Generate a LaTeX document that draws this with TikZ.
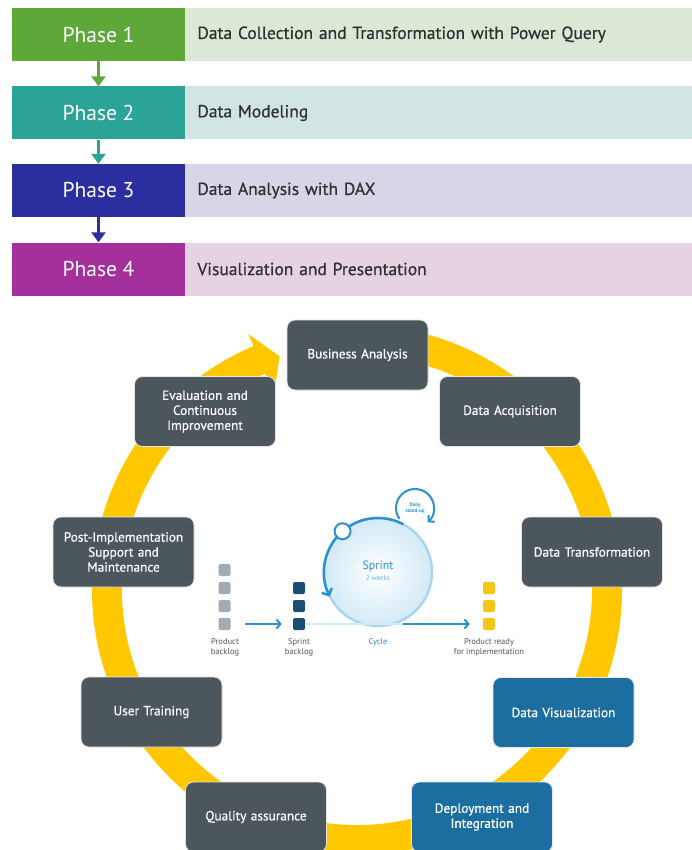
\documentclass[tikz,border=0pt]{standalone}
\usepackage{fontspec}
\setmainfont{PT Sans}
\newfontfamily\medfont[FakeBold=0.5]{PT Sans}
\usetikzlibrary{calc,arrows.meta}
\definecolor{pone}{HTML}{5EA83A}
\definecolor{bone}{HTML}{DCE8D6}
\definecolor{ptwo}{HTML}{2BA396}
\definecolor{btwo}{HTML}{D2E5E3}
\definecolor{pthree}{HTML}{2B2E9F}
\definecolor{bthree}{HTML}{D6D6E7}
\definecolor{pfour}{HTML}{A3309B}
\definecolor{bfour}{HTML}{E6D3E1}
\definecolor{desctext}{HTML}{2F2F2F}
\definecolor{ringc}{HTML}{FFC700}
\definecolor{boxgray}{HTML}{4C565D}
\definecolor{boxblue}{HTML}{1C6EA1}
\definecolor{sprintblue}{HTML}{2C8FCF}
\definecolor{sprintlight}{HTML}{A9D5EE}
\definecolor{sprintfill}{HTML}{D3EAF7}
\definecolor{sqgray}{HTML}{A2ABB3}
\definecolor{sqdark}{HTML}{18506F}
\definecolor{sqyellow}{HTML}{F5C518}
\definecolor{labelgray}{HTML}{555555}
\tikzset{
  phasebox/.style={minimum width=173pt, minimum height=53pt, inner sep=0pt, text=white,
    font=\fontsize{21.5}{24}\selectfont},
  barbox/.style={anchor=west, minimum width=507pt, minimum height=53pt, text width=483pt,
    inner xsep=12pt, inner ysep=0pt, align=left, text=desctext, font=\medfont\fontsize{17.5}{20}\selectfont},
  parrow/.style={line width=3pt, -{Triangle[width=14pt,length=10pt]}},
  ringbox/.style={rounded corners=8pt, fill=boxgray, draw=white!80!gray, line width=0.8pt,
    minimum width=141pt, minimum height=70pt, text width=134pt, align=center, text=white,
    inner sep=0pt, font=\medfont\fontsize{13.3}{15}\selectfont},
  bluebox/.style={ringbox, fill=boxblue},
  sq/.style={minimum size=12pt, inner sep=0pt, rounded corners=2pt},
  smalllabel/.style={align=center, text=labelgray, font=\fontsize{8.5}{10}\selectfont},
  bluearrow/.style={draw=sprintblue, line width=2pt, -{Straight Barb[length=4pt,width=9pt]}},
}
\begin{document}
\begin{tikzpicture}[x=1pt,y=1pt]
\useasboundingbox (0,0) rectangle (692,-850);
\clip (0,0) rectangle (692,-850);
\fill[white] (0,0) rectangle (692,-850);

% ---------- phases ----------
\node[phasebox, fill=pone]   (p1) at (98.5,-34.5) {Phase 1};
\node[phasebox, fill=ptwo]   (p2) at (98.5,-113)  {Phase 2};
\node[phasebox, fill=pthree] (p3) at (98.5,-190.5){Phase 3};
\node[phasebox, fill=pfour]  (p4) at (98.5,-269)  {Phase 4};
\node[barbox, fill=bone]   (d1) at (p1.east) {Data Collection and Transformation with Power Query};
\node[barbox, fill=btwo]   (d2) at (p2.east) {Data Modeling};
\node[barbox, fill=bthree] (d3) at (p3.east) {Data Analysis with DAX};
\node[barbox, fill=bfour]  (d4) at (p4.east) {Visualization and Presentation};
\draw[parrow, draw=pone, fill=pone] (p1.south) -- (p2.north);
\draw[parrow, draw=ptwo, fill=ptwo] (p2.south) -- (p3.north);
\draw[parrow, draw=pthree, fill=pthree] (p3.south) -- (p4.north);

% ---------- ring ----------
\coordinate (C) at (357,-590);
\fill[ringc] ($(C)+(85:265pt)$) arc[start angle=85, end angle=-247, radius=265pt]
  -- ($(C)+(113:278pt)$) -- ($(C)+(108.3:246pt)$) -- ($(C)+(113:213pt)$)
  -- ($(C)+(113:235pt)$) arc[start angle=-247, end angle=85, radius=235pt] -- cycle;

% ---------- sprint graphic ----------
\coordinate (S) at (378,-572);
\shade[inner color=white, outer color=sprintfill] (S) circle[radius=54pt];
\draw[sprintlight, line width=2.5pt] (S) circle[radius=54pt];
\draw[sprintblue, line width=2.5pt, -{Straight Barb[length=5pt,width=11pt]}]
  ($(S)+(62:54pt)$) arc[start angle=62, end angle=207, radius=54pt];
\node[circle, draw=sprintblue, fill=white, line width=2pt, minimum size=16pt, inner sep=0pt]
  (sc) at ($(S)+(131:54pt)$) {};
\coordinate (D) at (415,-508);
\draw[sprintblue, line width=2pt, -{Straight Barb[length=4pt,width=9pt]}]
  ($(D)+(215:19pt)$) arc[start angle=215, end angle=-48, radius=19pt];
\node[text=sprintblue, font=\bfseries\fontsize{5}{6}\selectfont, align=center, inner sep=0pt]
  (daily) at (415,-508) {Daily\\stand-up};
\node[text=sprintblue, font=\fontsize{12}{13}\selectfont, inner sep=0pt] (sprint) at (378,-566) {Sprint};
\node[text=sprintblue!70, font=\fontsize{7}{8}\selectfont, inner sep=0pt] (weeks) at (378,-578) {2 weeks};

\node[sq, fill=sqgray] (pb1) at (224.5,-570) {};
\node[sq, fill=sqgray] (pb2) at (224.5,-588) {};
\node[sq, fill=sqgray] (pb3) at (224.5,-606) {};
\node[sq, fill=sqgray] (pb4) at (224.5,-624) {};
\node[sq, fill=sqdark] (sb1) at (299,-588) {};
\node[sq, fill=sqdark] (sb2) at (299,-606) {};
\node[sq, fill=sqdark] (sb3) at (299,-624) {};
\node[sq, fill=sqyellow] (r1) at (489,-588) {};
\node[sq, fill=sqyellow] (r2) at (489,-606) {};
\node[sq, fill=sqyellow] (r3) at (489,-624) {};

\draw[bluearrow, shorten <=14pt, shorten >=11pt] (pb4.east) -- (sb3.west);
\draw[sprintfill, line width=2pt, shorten >=14pt] (sb3.east) -- (r3.west);
\draw[bluearrow, shorten <=98pt, shorten >=13pt] (sb3.east) -- (r3.west);

\node[smalllabel] (lpb) at (225,-647) {Product\\backlog};
\node[smalllabel] (lsb) at (299,-647) {Sprint\\backlog};
\node[smalllabel, text=sprintblue] (lcy) at (378,-642) {Cycle};
\node[smalllabel] (lrd) at (489,-647) {Product ready\\for implementation};

% ---------- ring boxes ----------
\node[ringbox] (ba) at (357.5,-355) {Business Analysis};
\node[ringbox] (da) at (510,-411.5) {Data Acquisition};
\node[ringbox] (ev) at (205,-411.5) {Evaluation and\\Continuous\\Improvement};
\node[ringbox] (dt) at (592,-552) {Data Transformation};
\node[ringbox] (pi) at (123.5,-552) {Post-Implementation\\Support and\\Maintenance};
\node[ringbox] (ut) at (151.5,-712) {User Training};
\node[bluebox] (dv) at (563.5,-712.5) {Data Visualization};
\node[ringbox] (qa) at (256,-817) {Quality assurance};
\node[bluebox] (di) at (482,-817) {Deployment and\\Integration};
\end{tikzpicture}
\end{document}
